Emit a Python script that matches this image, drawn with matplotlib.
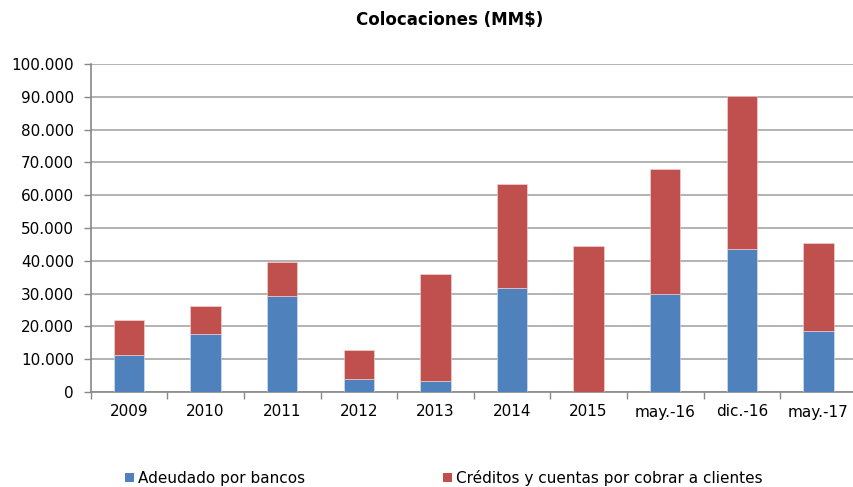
import matplotlib
matplotlib.use("Agg")
import matplotlib.pyplot as plt
from matplotlib.patches import Patch
import numpy as np

categories = ["2009", "2010", "2011", "2012", "2013", "2014", "2015", "may.-16", "dic.-16", "may.-17"]
totals = [21900, 26300, 39500, 12700, 36100, 63500, 44500, 67900, 90200, 45300]
adeudado = [11400, 17800, 29400, 4100, 3500, 31800, 0, 29900, 43600, 18700]
creditos = [t - a for t, a in zip(totals, adeudado)]
yticks = [0, 10000, 20000, 30000, 40000, 50000, 60000, 70000, 80000, 90000, 100000]
ytick_labels = ["0", "10.000", "20.000", "30.000", "40.000", "50.000", "60.000", "70.000", "80.000", "90.000", "100.000"]
series_names = ["Adeudado por bancos", "Créditos y cuentas por cobrar a clientes"]
title = "Colocaciones (MM$)"

blue = "#4F81BD"
red = "#C0504D"

plt.rcParams['font.family'] = ['DejaVu Sans']
fig = plt.figure(figsize=(8.54, 4.87), dpi=100)
W, H = 854, 487
left, right, top, bottom = 90.7, 856.7, 64, 392
ax = fig.add_axes([left / W, 1 - bottom / H, (right - left) / W, (bottom - top) / H])

x = np.arange(len(categories))
bw = 0.395
ax.bar(x, adeudado, bw, color=blue, edgecolor="#dbe5f1", linewidth=0.4, zorder=3)
ax.bar(x, creditos, bw, bottom=adeudado, color=red, edgecolor="#f2dcdb", linewidth=0.4, zorder=3)

ax.set_xlim(-0.5, len(categories) - 0.5)
ax.set_ylim(0, 100000)
ax.set_yticks(yticks)
ax.set_yticklabels(ytick_labels, fontsize=11, color="#000000")
ax.set_xticks(x)
ax.set_xticklabels(categories, fontsize=11)
ax.set_xticks(np.arange(len(categories) + 1) - 0.5, minor=True)
ax.tick_params(axis='x', which='major', length=0, pad=9)
ax.tick_params(axis='x', which='minor', length=5, color="#888888", width=1)
ax.tick_params(axis='y', length=5, color="#888888", width=1, pad=7)

ax.grid(axis='y', color="#a6a6a6", linewidth=1.2, zorder=0)
for s in ["top", "right"]:
    ax.spines[s].set_visible(False)
for s in ["left", "bottom"]:
    ax.spines[s].set_color("#888888")
    ax.spines[s].set_linewidth(1.2)

fig.text(450 / W, 1 - 20 / H, title, ha="center", va="center", fontsize=12, fontweight="bold")

handles = [Patch(facecolor=blue), Patch(facecolor=red)]
fig.legend(handles, series_names, loc="center left", bbox_to_anchor=(125 / W, 1 - 478 / H),
           ncol=2, frameon=False, fontsize=11, handlelength=0.6, handleheight=0.6,
           handletextpad=0.26, columnspacing=9.0, borderaxespad=0, borderpad=0)

fig.savefig("out.png", dpi=100)
